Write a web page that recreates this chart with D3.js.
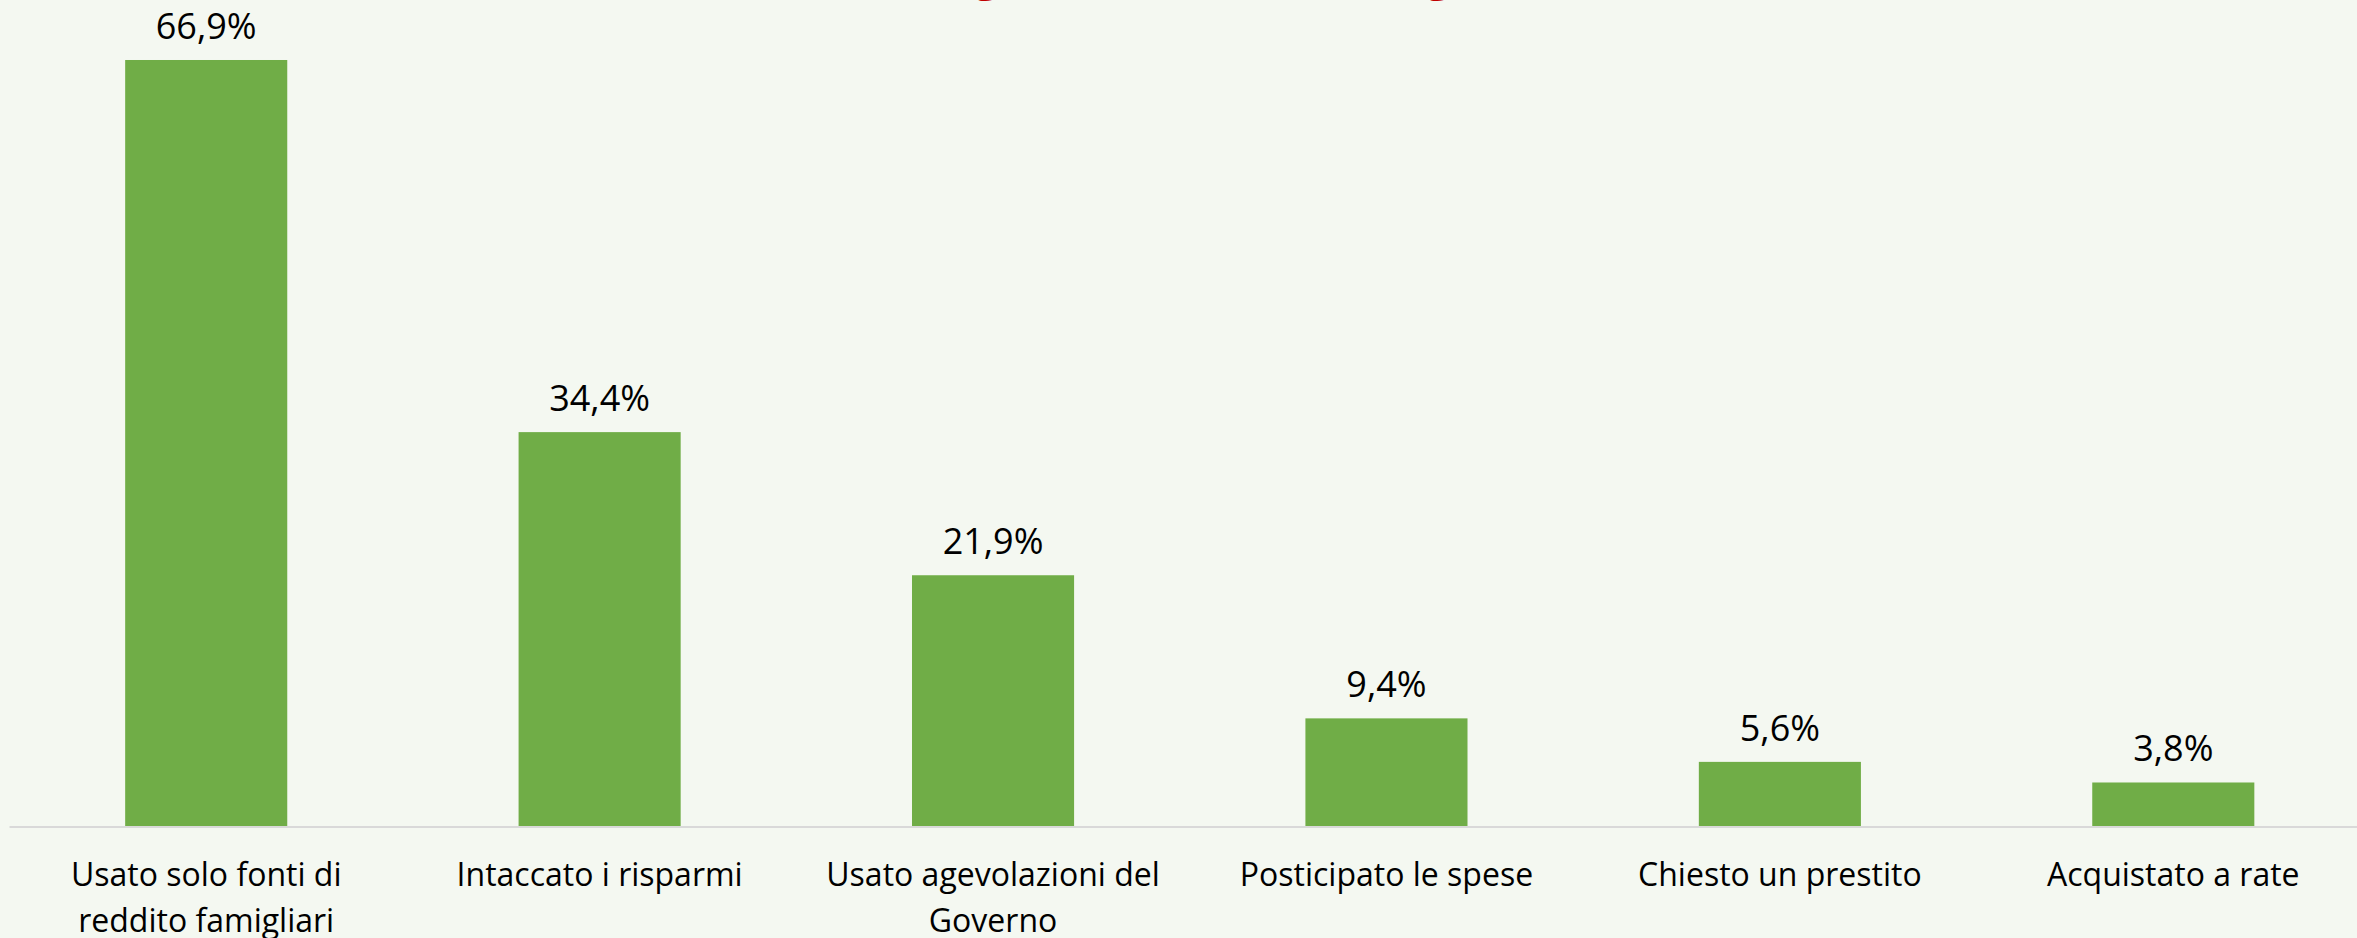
<!DOCTYPE html>
<html>
<head>
<meta charset="utf-8">
<script src="https://cdn.jsdelivr.net/npm/d3@7"></script>
<style>
    html, body { margin: 0; padding: 0; background: #F4F8F1; }
    svg { display: block; }
</style>
</head>
<body>
<svg id="chart"></svg>
<script>

    //data
    var categories = ["Usato solo fonti di reddito famigliari", "Intaccato i risparmi",
        "Usato agevolazioni del Governo", "Posticipato le spese", "Chiesto un prestito", "Acquistato a rate"];
    var values = [66.9, 34.4, 21.9, 9.4, 5.6, 3.8];
    //title sits above the picture, only its descenders show
    var title_text = "Come si sono mosse le famiglie nel 2020, e in Liguria";

    var width = 2357,
        height = 938;

    var svg = d3.select("#chart").attr("width", width).attr("height", height);

    svg.append("rect").attr("width", width).attr("height", height).attr("fill", "#F4F8F1");

    //scales
    var x_scale = d3.scaleBand()
        .domain(categories)
        .range([9.5, 2370])
        .paddingInner(0.588)
        .paddingOuter(0.294);

    var y_scale = d3.scaleLinear()
        .domain([0, 70])
        .range([826, 24.5]);

    var fmt = function(v) { return d3.format(".1f")(v).replace(".", ",") + "%"; };

    var my_data = categories.map(function(c, i) { return {cat: c, value: values[i]}; });

    //title (cut off at top) - line up the first "g" with the one seen in the picture
    var title = svg.append("text")
        .attr("class", "title")
        .attr("y", -10)
        .attr("font-family", "Open Sans")
        .attr("font-weight", "bold")
        .attr("font-size", 47)
        .attr("fill", "#C00000")
        .text(title_text);

    var g_idx = title_text.indexOf("g");
    var pre_w = g_idx > 0 ? title.node().getSubStringLength(0, g_idx) : 0;
    var g_w = title.node().getSubStringLength(g_idx, 1);
    title.attr("x", 987 - pre_w - g_w / 2);

    //bars
    svg.append("g").attr("class", "bar_group")
        .selectAll("rect")
        .data(my_data)
        .enter().append("rect")
        .attr("x", d => x_scale(d.cat))
        .attr("y", d => y_scale(d.value))
        .attr("width", x_scale.bandwidth())
        .attr("height", d => y_scale(0) - y_scale(d.value))
        .attr("fill", "#70AD47");

    //value labels
    svg.append("g").attr("class", "value_labels")
        .selectAll("text")
        .data(my_data)
        .enter().append("text")
        .attr("x", d => x_scale(d.cat) + x_scale.bandwidth() / 2)
        .attr("y", d => y_scale(d.value) - 21)
        .attr("text-anchor", "middle")
        .attr("font-family", "Open Sans")
        .attr("font-size", 36)
        .attr("fill", "#000")
        .text(d => fmt(d.value));

    //x axis
    var x_axis = d3.axisBottom(x_scale).tickSize(0).tickPadding(0);
    var axis_g = svg.append("g")
        .attr("class", "axis axis--x")
        .attr("transform", "translate(0,827)")
        .call(x_axis);

    axis_g.select(".domain").remove();
    axis_g.append("line")
        .attr("x1", 9.5)
        .attr("x2", width)
        .attr("stroke", "#D9D9D9")
        .attr("stroke-width", 2);

    axis_g.selectAll(".tick text")
        .attr("font-family", "Open Sans")
        .attr("font-size", 32)
        .attr("fill", "#000")
        .attr("dy", null)
        .attr("y", 59)
        .call(wrap, x_scale.step() * 0.97);

    //word wrap for the category labels
    function wrap(texts, max_width) {
        texts.each(function() {
            var text = d3.select(this),
                words = text.text().split(/\s+/),
                line = [],
                line_no = 0,
                y = text.attr("y");
            var tspan = text.text(null).append("tspan").attr("x", 0).attr("y", y);
            words.forEach(function(w) {
                line.push(w);
                tspan.text(line.join(" "));
                if (tspan.node().getComputedTextLength() > max_width && line.length > 1) {
                    line.pop();
                    tspan.text(line.join(" "));
                    line = [w];
                    line_no += 1;
                    tspan = text.append("tspan").attr("x", 0).attr("y", +y + line_no * 46).text(w);
                }
            });
        });
    }

</script>
</body>
</html>
